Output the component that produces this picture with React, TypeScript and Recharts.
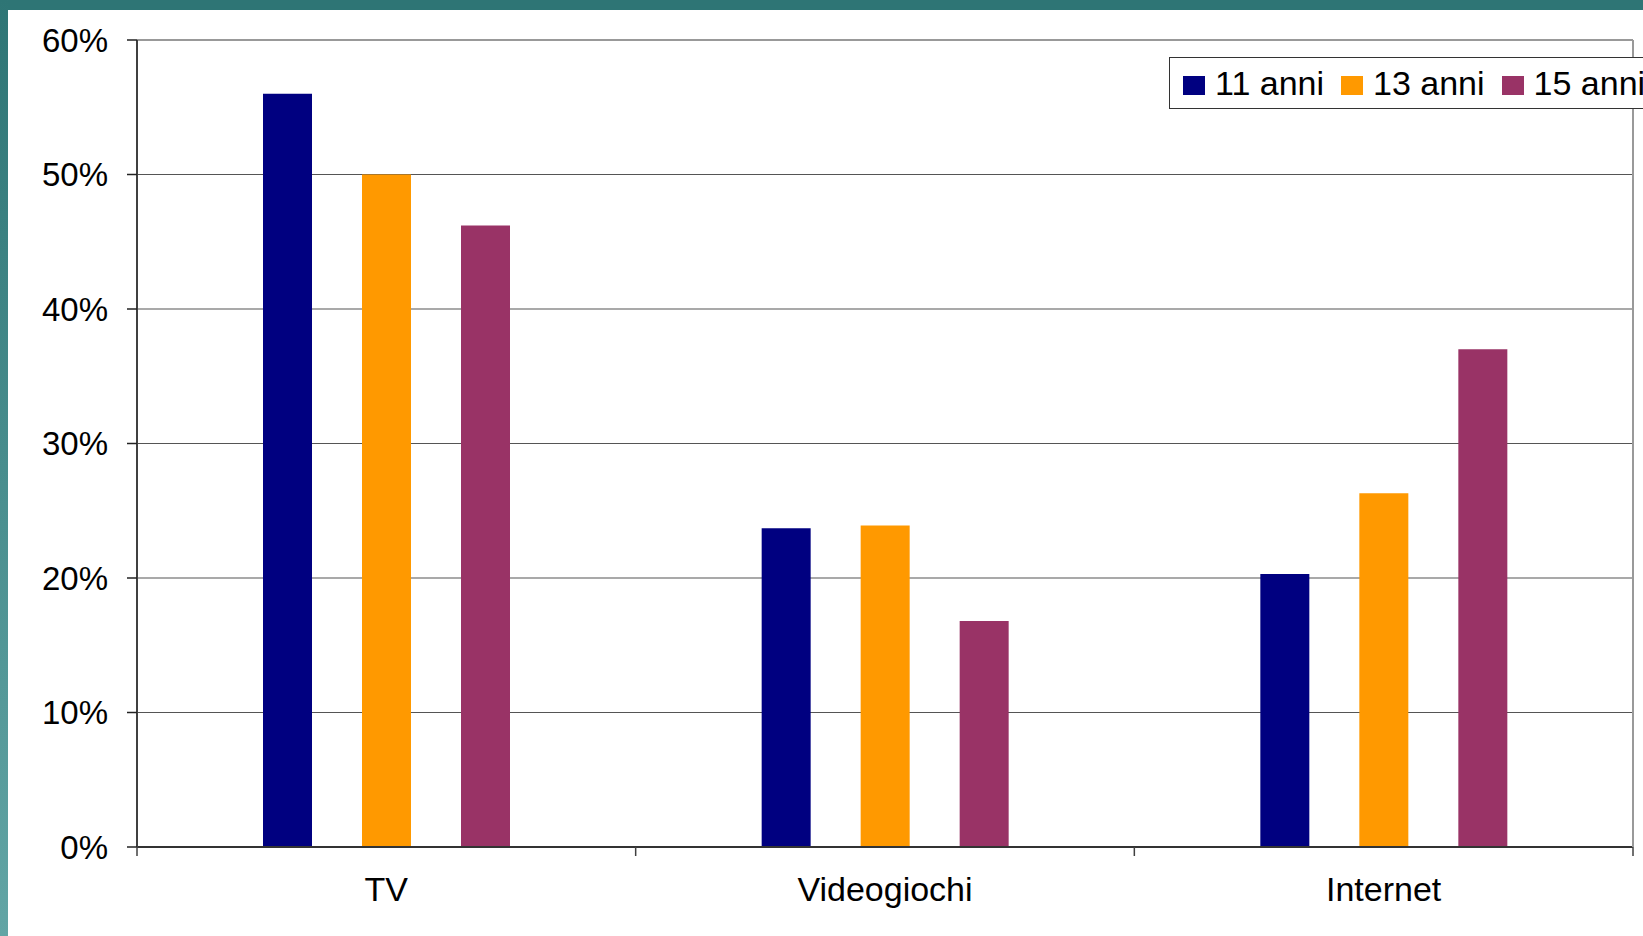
import React from "react";
import {
  BarChart,
  Bar,
  XAxis,
  YAxis,
  CartesianGrid,
  ReferenceLine,
} from "recharts";

const CATEGORIES = ["TV", "Videogiochi", "Internet"];
const ANNI_11 = [56.0, 23.7, 20.3];
const ANNI_13 = [50.0, 23.9, 26.3];
const ANNI_15 = [46.2, 16.8, 37.0];
const Y_TICKS = [0, 10, 20, 30, 40, 50, 60];

const SERIES = [
  { key: "a11", name: "11 anni", color: "#000080", values: ANNI_11 },
  { key: "a13", name: "13 anni", color: "#FF9900", values: ANNI_13 },
  { key: "a15", name: "15 anni", color: "#993366", values: ANNI_15 },
];

const data = CATEGORIES.map((c, i) => {
  const row: Record<string, string | number> = { cat: c };
  SERIES.forEach((s) => (row[s.key] = s.values[i]));
  return row;
});

const FONT = "'Liberation Sans', Arial, sans-serif";
const AXIS = "#404040";

// etichetta categoria + tacche ai bordi della banda
function CatTick(props: any) {
  const { x, y, payload, index, visibleTicksCount } = props;
  const off = payload?.offset ?? 0;
  const last = index === (visibleTicksCount ?? CATEGORIES.length) - 1;
  return (
    <g>
      <line x1={x - off} x2={x - off} y1={y - 30} y2={y - 21} stroke={AXIS} strokeWidth={1.5} />
      {last && <line x1={x + off} x2={x + off} y1={y - 30} y2={y - 21} stroke={AXIS} strokeWidth={1.5} />}
      <text x={x} y={y} dy="0.71em" textAnchor="middle" fill="#000" fontSize={34} fontFamily={FONT}>
        {payload.value}
      </text>
    </g>
  );
}

function LegendBox() {
  return (
    <div
      style={{
        position: "absolute",
        left: 1169,
        top: 57,
        width: 520,
        height: 50,
        border: "1px solid #333",
        background: "#fff",
        display: "flex",
        alignItems: "center",
        paddingLeft: 13,
        fontFamily: FONT,
        fontSize: 34,
        whiteSpace: "nowrap",
      }}
    >
      {SERIES.map((s) => (
        <span key={s.key} style={{ display: "inline-flex", alignItems: "center", marginRight: 17 }}>
          <span style={{ width: 22, height: 19, background: s.color, display: "inline-block", marginRight: 10, marginTop: 4 }} />
          <span>{s.name}</span>
        </span>
      ))}
    </div>
  );
}

export default function App() {
  return (
    <div
      style={{
        position: "fixed",
        left: 0,
        top: 0,
        width: 1643,
        height: 936,
        overflow: "hidden",
        background: "#fff",
      }}
    >
      <BarChart
        width={1643}
        height={936}
        data={data}
        margin={{ top: 40, right: 0, bottom: 0, left: 0 }}
        barSize={49}
        barGap={50}
      >
        <CartesianGrid horizontal vertical={false} stroke="#555" strokeWidth={1.2} />
        <XAxis
          dataKey="cat"
          height={89}
          tickLine={false}
          tickSize={9}
          tickMargin={21}
          axisLine={{ stroke: "#333", strokeWidth: 2 }}
          tick={<CatTick />}
          interval={0}
        />
        <YAxis
          width={137}
          domain={[0, 60]}
          ticks={Y_TICKS}
          tickFormatter={(v: number) => `${v}%`}
          tickSize={10}
          tickMargin={19}
          tickLine={{ stroke: "#222", strokeWidth: 1.5 }}
          axisLine={{ stroke: AXIS, strokeWidth: 2 }}
          tick={{ fill: "#000", fontSize: 33, fontFamily: FONT }}
        />
        <YAxis
          yAxisId="right"
          orientation="right"
          width={10}
          domain={[0, 60]}
          tick={false}
          tickLine={false}
          axisLine={{ stroke: "#999", strokeWidth: 2 }}
        />
        <ReferenceLine y={60} stroke="#999" strokeWidth={2} />
        {SERIES.map((s) => (
          <Bar key={s.key} dataKey={s.key} name={s.name} fill={s.color} isAnimationActive={false} />
        ))}
      </BarChart>
      <LegendBox />
      <div style={{ position: "absolute", left: 0, top: 0, width: 1643, height: 10, background: "#2E7575" }} />
      <div
        style={{
          position: "absolute",
          left: 0,
          top: 0,
          width: 8,
          height: 936,
          background: "linear-gradient(#2E7575, #62A5A5)",
        }}
      />
    </div>
  );
}
